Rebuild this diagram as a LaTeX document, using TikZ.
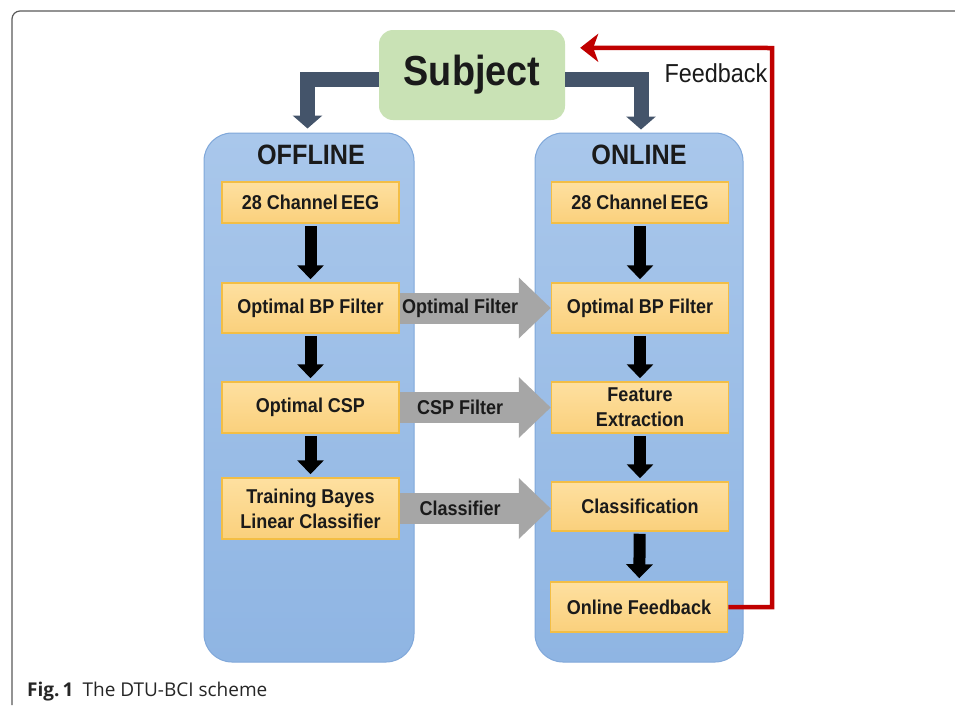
\documentclass[tikz,border=0pt]{standalone}
\usepackage{fontspec}
\setmainfont{Liberation Sans}
\newfontfamily\dfont[FakeStretch=0.9]{Liberation Sans}
\newfontfamily\capfont{Open Sans}
\usetikzlibrary{arrows.meta,calc}
\definecolor{framegray}{HTML}{5A5A5A}
\definecolor{subjgreen}{HTML}{C9E2B5}
\definecolor{slate}{HTML}{44546A}
\definecolor{fbred}{HTML}{C00000}
\definecolor{paneltop}{HTML}{A9C7EB}
\definecolor{panelbot}{HTML}{8FB5E3}
\definecolor{paneledge}{HTML}{80A8DA}
\definecolor{boxtop}{HTML}{FEE0A0}
\definecolor{boxbot}{HTML}{FAD07C}
\definecolor{boxedge}{HTML}{F3BE45}
\definecolor{arrgray}{HTML}{A6A6A6}
\definecolor{txtdark}{HTML}{1A1A1A}
\begin{document}
\begin{tikzpicture}[x=1pt,y=-1pt,
  panel/.style={rounded corners=28pt, top color=paneltop, bottom color=panelbot, draw=paneledge, line width=1pt, minimum height=529pt, inner sep=0pt},
  title/.style={font=\dfont\bfseries\fontsize{28}{30}\selectfont, text=txtdark},
  stepbox/.style={top color=boxtop, bottom color=boxbot, draw=boxedge, line width=1.5pt, minimum width=177pt, inner sep=0pt, align=center, text=txtdark, font=\dfont\bfseries\fontsize{20}{25}\selectfont},
  flow/.style={line width=12pt, black, shorten <=2pt, shorten >=3pt, -{Triangle[width=26pt,length=14pt]}},
  graylink/.style={line width=31pt, arrgray, -{Triangle[width=59pt,length=32pt]}},
  graylab/.style={text=txtdark, font=\dfont\bfseries\fontsize{20}{22}\selectfont},
  slatearr/.style={line width=15pt, slate, line join=miter, -{Triangle[width=29pt,length=13pt]}},
  fbline/.style={line width=4.5pt, fbred, line join=miter, -{Stealth[width=28pt,length=18pt,inset=5pt]}}
]
\useasboundingbox (0,0) rectangle (955,705);
\fill[white] (0,0) rectangle (955,705);
% frame
\draw[framegray, line width=1.2pt, rounded corners=8pt] (12,705) -- (12,11) -- (955,11);

% subject
\node[fill=subjgreen, rounded corners=14pt, minimum width=186pt, minimum height=90pt, inner sep=0pt,
  font=\dfont\bfseries\fontsize{42}{44}\selectfont, text=txtdark] (subj) at (472,75) {Subject};

% panels
\node[panel, minimum width=210pt] (off) at (309,397.5) {};
\node[panel, minimum width=208pt] (on) at (639,397.5) {};
\node[title] (offt) at (311,155) {OFFLINE};
\node[title] (ont) at (639,155) {ONLINE};

% left column
\node[stepbox, minimum height=41pt] (L1) at (310.5,202.5) {28 Channel\,EEG};
\node[stepbox, minimum height=50pt] (L2) at (310.5,308) {Optimal BP Filter};
\node[stepbox, minimum height=51pt] (L3) at (310.5,407.5) {Optimal CSP};
\node[stepbox, minimum height=61pt] (L4) at (310.5,508.5) {Training Bayes\\Linear Classifier};

% right column
\node[stepbox, minimum height=41pt] (R1) at (640,202.5) {28 Channel\,EEG};
\node[stepbox, minimum height=50pt] (R2) at (640,308) {Optimal BP Filter};
\node[stepbox, minimum height=51pt] (R3) at (640,407.5) {Feature\\Extraction};
\node[stepbox, minimum height=49pt] (R4) at (640,506.5) {Classification};
\node[stepbox, minimum height=50pt] (R5) at (639,607) {Online Feedback};

% vertical flow arrows
\draw[flow] (L1) -- (L2);
\draw[flow] (L2) -- (L3);
\draw[flow] (L3) -- (L4);
\draw[flow] (R1) -- (R2);
\draw[flow] (R2) -- (R3);
\draw[flow] (R3) -- (R4);
\draw[flow] (R4) -- (R5);

% gray transfer arrows
\draw[graylink] (L2.east) -- (L2.east -| R2.west);
\path (L2.east) -- (L2.east -| R2.west) node[pos=0.4, graylab] (g1) {Optimal Filter};
\draw[graylink] (L3.east) -- (L3.east -| R3.west);
\path (L3.east) -- (L3.east -| R3.west) node[pos=0.4, graylab] (g2) {CSP Filter};
\draw[graylink] (L4.east) -- (L4.east -| R4.west);
\path (L4.east) -- (L4.east -| R4.west) node[pos=0.4, graylab] (g3) {Classifier};

% subject to panels
\draw[slatearr] ($(subj.west)+(0,4.5)$) -| ($(off.north)+(-1.5,-4)$);
\draw[slatearr] ($(subj.east)+(0,4.5)$) -| ($(on.north)+(2,-3)$);

% feedback loop
\coordinate (fbc) at (772,48);
\draw[fbline] (R5.east) -| (fbc) -- ($(subj.north east)+(15,18)$);
\node[font=\dfont\fontsize{26}{28}\selectfont, text=txtdark, anchor=base] (fbl) at (716,82) {Feedback};

% caption
\node[anchor=base west, inner sep=0pt, font=\capfont\fontsize{19}{21}\selectfont, text=black!85] (cap) at (27,696)
  {\textbf{Fig.\,1}\hspace{9pt}The DTU-BCI scheme};
\end{tikzpicture}
\end{document}
